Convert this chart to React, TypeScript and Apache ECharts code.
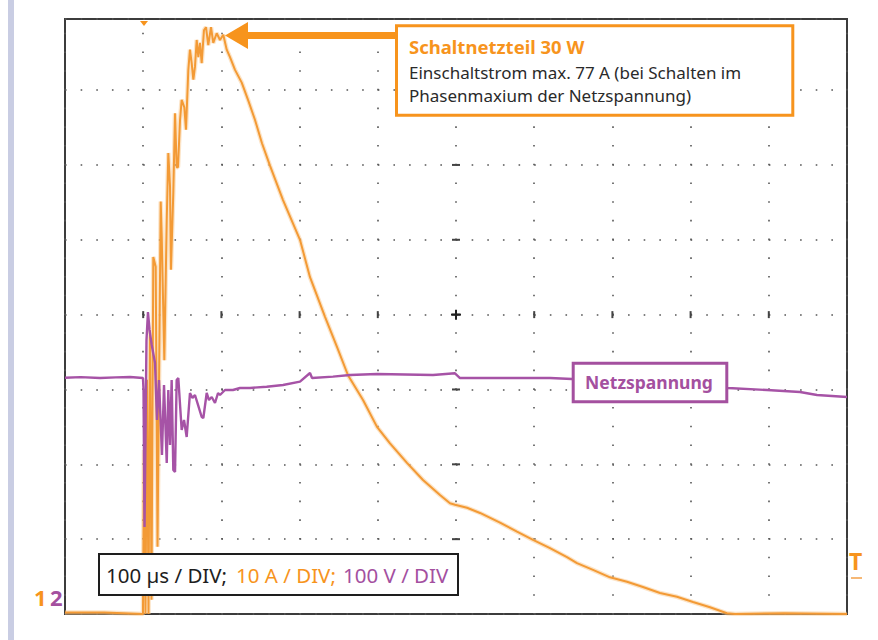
import React, { useEffect, useRef } from "react";
import * as echarts from "echarts";

// ---- Data (time in µs, current in A, voltage in V) ----
const currentTime = [0, 50, 99.7, 101.0, 102.9, 104.9, 106.8, 108.7, 110.6, 112.9, 116.0, 118.3, 122.4, 123.7, 127.0, 130.1, 132.1, 134.3, 135.5, 138.5, 140.7, 142.8, 144.5, 147.1, 149.2, 152.6, 154.7, 157.7, 159.8, 162.0, 164.1, 166.2, 168.4, 170.5, 172.6, 174.8, 177.7, 180.3, 183.2, 186.7, 189.6, 194.0, 198.2, 202.4, 206.8, 211.0, 217.4, 226.0, 234.4, 243.0, 251.9, 262.1, 278.8, 300.5, 313.3, 332.5, 347.8, 361.9, 381.1, 399.0, 415.6, 437.3, 457.8, 479.5, 492.3, 498.7, 514.1, 530.7, 556.3, 578.0, 598.5, 620.2, 641.9, 654.7, 675.2, 696.9, 718.7, 739.1, 760.9, 782.6, 803.1, 824.8, 846.5, 856.8, 920, 1000];
const currentAmps = [0.2, 0.2, 0, 21.9, 0, 31.3, 0, 37.9, 1.9, 47.7, 46.4, 9.0, 55.1, 50.4, 33.9, 52.6, 61.6, 57.1, 46.0, 56.3, 66.9, 59.7, 59.7, 66.0, 68.7, 67.7, 64.7, 72.7, 75.4, 73.6, 71.4, 73.1, 76.7, 74.4, 76.3, 73.6, 78.0, 78.4, 76.0, 78.4, 76.3, 77.6, 76.7, 77.4, 75.4, 74.4, 72.7, 71.0, 68.6, 66.0, 62.9, 59.9, 55.3, 50.0, 45.0, 39.7, 35.7, 31.9, 28.6, 25.0, 22.8, 20.2, 17.9, 15.9, 14.8, 14.6, 14.2, 13.5, 12.2, 11.0, 9.9, 8.8, 7.6, 6.8, 5.9, 4.9, 4.3, 3.6, 2.8, 2.3, 1.6, 0.9, 0.1, 0, 0.1, 0];

const voltageTime = [0, 20, 44.8, 65, 83.1, 99.7, 100.4, 101.7, 104.2, 106.1, 108.1, 110.9, 115.1, 117.6, 120.2, 124.0, 126.6, 130.1, 132.1, 134.3, 136.4, 138.5, 140.7, 142.8, 144.9, 149.2, 152.2, 155.6, 159.8, 163.0, 166.2, 170.1, 174.8, 176.9, 181.2, 184.1, 187.6, 191.8, 195.7, 198.2, 204.6, 214.8, 223.8, 236.6, 257.9, 278.8, 300.5, 313.3, 315.9, 342.7, 364.5, 399.0, 470.6, 498.7, 505.1, 556.3, 620.2, 648.3, 750, 847.8, 897.7, 939.9, 961.6, 1000];
const voltageVolts = [315.7, 316.5, 315.3, 316.2, 316.7, 315.3, 299.3, 116.2, 366.0, 403.5, 379.5, 359.4, 335.4, 259.2, 312.7, 212.5, 306.0, 201.8, 299.3, 225.8, 312.7, 192.4, 189.7, 312.7, 315.3, 245.9, 259.2, 236.5, 295.3, 288.6, 292.6, 279.3, 263.2, 261.9, 295.3, 285.9, 289.9, 281.9, 295.3, 292.6, 299.3, 299.3, 302.0, 302.0, 303.7, 306.0, 310.4, 322.0, 315.3, 317.1, 319.3, 320.7, 319.3, 321.6, 315.3, 315.3, 315.3, 314.0, 308.0, 302.0, 299.3, 296.6, 292.6, 289.9];

// screen graticule (10 time divisions, 8 current divisions)
const timeDivisions = [0, 100, 200, 300, 400, 500, 600, 700, 800, 900, 1000];
const currentDivisions = [0, 10, 20, 30, 40, 50, 60, 70];
const centerTime = 500;
const centerCurrent = 40;

const scaleLabels = ["100 µs / DIV;", "10 A / DIV;", "100 V / DIV"];
const channelLabels = ["1", "2"];
const triggerLabel = "T";
const calloutTitle = "Schaltnetzteil 30 W";
const calloutLines = ["Einschaltstrom max. 77 A (bei Schalten im", "Phasenmaxium der Netzspannung)"];
const voltageLabel = "Netzspannung";

const ORANGE = "#f7941d";
const TRACE_ORANGE = "#f39a35";
const PURPLE = "#a4509f";
const TRACE_PURPLE = "#a653a6";
const FONT = "'Noto Sans', sans-serif";

export default function App() {
  const ref = useRef<HTMLDivElement>(null);
  useEffect(() => {
    const chart = echarts.init(ref.current!, null, { renderer: "svg" });
    const orangeData = currentTime.map((t, i) => [t, currentAmps[i]]);
    const purpleData = voltageTime.map((t, i) => [t, voltageVolts[i]]);
    chart.setOption({
      animation: false,
      backgroundColor: "#ffffff",
      grid: {
        left: 65,
        top: 19,
        width: 782,
        height: 595,
        show: true,
        borderColor: "#3c3c3c",
        borderWidth: 2,
        backgroundColor: "#ffffff",
        z: 0,
      },
      xAxis: {
        type: "value",
        min: 0,
        max: 1000,
        interval: 100,
        axisLabel: { show: false },
        axisLine: { show: false },
        axisTick: { show: false },
        splitLine: {
          show: true,
          lineStyle: { color: "#555", width: 1.6, type: [1.6, 17.115], dashOffset: 4.7 },
        },
      },
      yAxis: [
        {
          type: "value",
          min: 0,
          max: 79.5,
          interval: 10,
          axisLabel: { show: false },
          axisLine: { show: false },
          axisTick: { show: false },
          splitLine: {
            show: true,
            lineStyle: { color: "#555", width: 1.6, type: [1.6, 14.04] },
          },
        },
        {
          type: "value",
          min: 0,
          max: 795,
          show: false,
          splitLine: { show: false },
        },
      ],
      series: [
        {
          type: "line",
          yAxisIndex: 0,
          data: orangeData,
          symbol: "none",
          silent: true,
          lineStyle: { color: "#f9c98f", width: 4.5, opacity: 0.5 },
          z: 2,
        },
        {
          type: "line",
          yAxisIndex: 0,
          data: orangeData,
          symbol: "none",
          silent: true,
          lineStyle: { color: TRACE_ORANGE, width: 2 },
          z: 3,
        },
        {
          type: "line",
          yAxisIndex: 1,
          data: purpleData,
          symbol: "none",
          silent: true,
          lineStyle: { color: TRACE_PURPLE, width: 2.4 },
          z: 4,
        },
      ],
    });

    // center-line graticule marks, positioned through the axes
    const marks: any[] = [];
    const c = chart.convertToPixel({ xAxisIndex: 0, yAxisIndex: 0 }, [centerTime, centerCurrent]) as number[];
    timeDivisions.slice(1, -1).forEach((t) => {
      const p = chart.convertToPixel({ xAxisIndex: 0, yAxisIndex: 0 }, [t, centerCurrent]) as number[];
      marks.push({
        type: "line",
        shape: { x1: p[0], y1: p[1] - 3.5, x2: p[0], y2: p[1] + 3.5 },
        style: { stroke: "#444", lineWidth: 2 },
        z: 1,
      });
    });
    currentDivisions.slice(1).forEach((a) => {
      const p = chart.convertToPixel({ xAxisIndex: 0, yAxisIndex: 0 }, [centerTime, a]) as number[];
      marks.push({
        type: "line",
        shape: { x1: p[0] - 4, y1: p[1], x2: p[0] + 4, y2: p[1] },
        style: { stroke: "#444", lineWidth: 2 },
        z: 1,
      });
    });
    marks.push({
      type: "line",
      shape: { x1: c[0] - 5, y1: c[1], x2: c[0] + 5, y2: c[1] },
      style: { stroke: "#222", lineWidth: 2 },
      z: 1,
    });
    marks.push({
      type: "line",
      shape: { x1: c[0], y1: c[1] - 5, x2: c[0], y2: c[1] + 5 },
      style: { stroke: "#222", lineWidth: 2 },
      z: 1,
    });

    const annotations: any[] = [
      { type: "rect", shape: { x: 8, y: 0, width: 6, height: 640 }, style: { fill: "#c9cde3" }, z: 10 },
      { type: "polygon", shape: { points: [[140, 21], [148, 21], [144, 26]] }, style: { fill: ORANGE }, z: 10 },
      // arrow
      { type: "rect", shape: { x: 244, y: 32, width: 152, height: 7 }, style: { fill: ORANGE }, z: 10 },
      { type: "polygon", shape: { points: [[225, 35.5], [248, 22], [248, 49]] }, style: { fill: ORANGE }, z: 10 },
      // orange callout
      {
        type: "rect",
        shape: { x: 396.5, y: 25.8, width: 396.3, height: 89.4 },
        style: { fill: "#ffffff", stroke: ORANGE, lineWidth: 3 },
        z: 11,
      },
      {
        type: "text",
        x: 409,
        y: 46,
        style: { text: calloutTitle, fill: ORANGE, font: `bold 18.5px ${FONT}`, verticalAlign: "middle" },
        z: 12,
      },
      {
        type: "text",
        x: 409,
        y: 72,
        style: { text: calloutLines[0], fill: "#2a2a2a", font: `17px ${FONT}`, verticalAlign: "middle" },
        z: 12,
      },
      {
        type: "text",
        x: 409,
        y: 95.5,
        style: { text: calloutLines[1], fill: "#2a2a2a", font: `17px ${FONT}`, verticalAlign: "middle" },
        z: 12,
      },
      // Netzspannung label
      {
        type: "rect",
        shape: { x: 573.2, y: 363.2, width: 153.6, height: 38.6 },
        style: { fill: "#ffffff", stroke: PURPLE, lineWidth: 3 },
        z: 11,
      },
      {
        type: "text",
        x: 649,
        y: 382,
        style: { text: voltageLabel, fill: PURPLE, font: `bold 17.5px ${FONT}`, align: "center", verticalAlign: "middle" },
        z: 12,
      },
      // scale box
      {
        type: "rect",
        shape: { x: 99, y: 554, width: 359, height: 41 },
        style: { fill: "#ffffff", stroke: "#1e1e1e", lineWidth: 2 },
        z: 11,
      },
      {
        type: "text",
        x: 106,
        y: 575,
        style: { text: scaleLabels[0], fill: "#1e1e1e", font: `20.5px ${FONT}`, verticalAlign: "middle" },
        z: 12,
      },
      {
        type: "text",
        x: 236,
        y: 575,
        style: { text: scaleLabels[1], fill: ORANGE, font: `20.5px ${FONT}`, verticalAlign: "middle" },
        z: 12,
      },
      {
        type: "text",
        x: 343,
        y: 575,
        style: { text: scaleLabels[2], fill: PURPLE, font: `20.5px ${FONT}`, verticalAlign: "middle" },
        z: 12,
      },
      // channel markers
      {
        type: "text",
        x: 34,
        y: 597,
        style: { text: channelLabels[0], fill: ORANGE, font: `bold 22px ${FONT}`, verticalAlign: "middle" },
        z: 12,
      },
      {
        type: "text",
        x: 50,
        y: 597,
        style: { text: channelLabels[1], fill: PURPLE, font: `bold 22px ${FONT}`, verticalAlign: "middle" },
        z: 12,
      },
      {
        type: "text",
        x: 849,
        y: 561,
        style: { text: triggerLabel, fill: ORANGE, font: `bold 23px ${FONT}`, verticalAlign: "middle" },
        z: 12,
      },
      { type: "rect", shape: { x: 851, y: 577, width: 11, height: 2 }, style: { fill: "#f6b876" }, z: 12 },
    ];

    chart.setOption({ graphic: marks.concat(annotations) });
    return () => chart.dispose();
  }, []);
  return (
    <div
      ref={ref}
      style={{ position: "fixed", left: 0, top: 0, width: 878, height: 640, background: "#ffffff" }}
    />
  );
}
